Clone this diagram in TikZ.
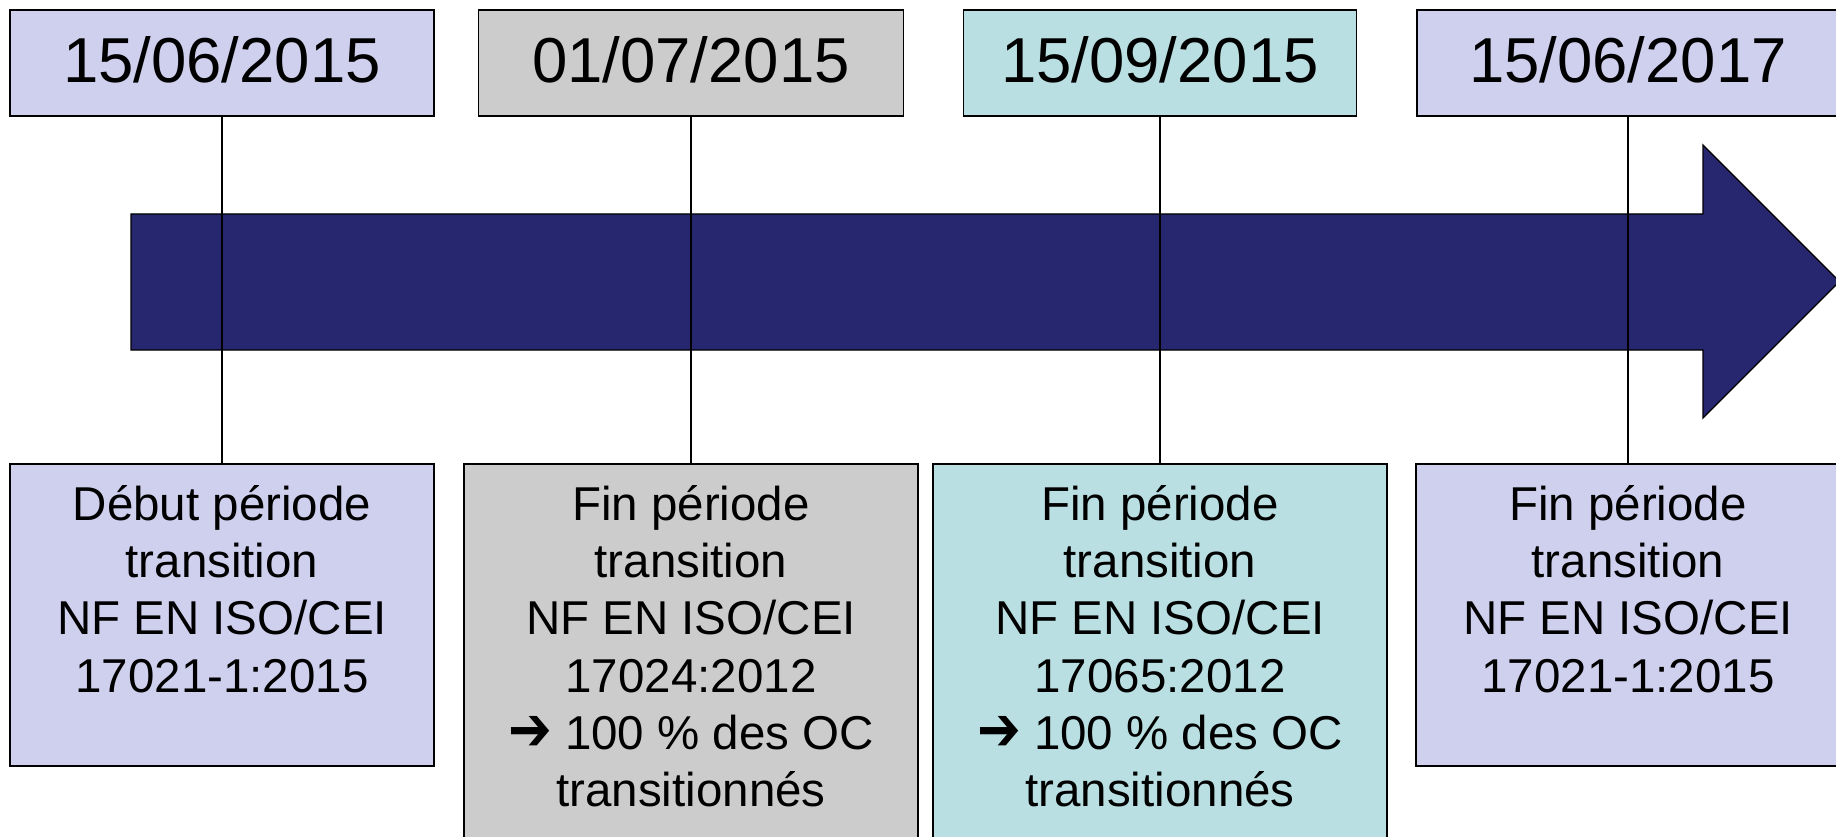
\documentclass[tikz,border=0pt]{standalone}
\usepackage{graphicx}
\usepackage{fontspec}
\setmainfont{Liberation Sans}
\newfontfamily\symfont{DejaVu Sans Bold}
\newcommand{\bigarrow}{{\symfont\raisebox{-1pt}{\scalebox{1.1}[1.3]{➔}}}}
\definecolor{lav}{HTML}{CFCFEE}
\definecolor{grayb}{HTML}{CCCCCC}
\definecolor{teal}{HTML}{B9DFE2}
\definecolor{navy}{HTML}{272770}
\begin{document}
\begin{tikzpicture}[x=1pt,y=-1pt,
  boxst/.style={draw=black, line width=1.5pt, rectangle, inner sep=0pt},
  datebox/.style={boxst, minimum height=106pt},
  datetext/.style={anchor=base, inner sep=0pt, font={\fontsize{63.5}{70}\selectfont}},
  infotext/.style={anchor=north, inner sep=0pt, align=center, font={\fontsize{47.5}{57.3}\selectfont}},
  conn/.style={draw=black, line width=1.3pt}]
\useasboundingbox (0,0) rectangle (1836,837);
\clip (0,0) rectangle (1836,837);
% timeline arrow
\filldraw[fill=navy, draw=black, line width=1.3pt]
  (131,214) -- (1703,214) -- (1703,145) -- (1839.5,281.5) -- (1703,418) -- (1703,350) -- (131,350) -- cycle;
% top date boxes
\node[datebox, fill=lav, minimum width=424pt] (T1) at (222,63) {};
\node[datebox, fill=grayb, minimum width=425pt] (T2) at (691,63) {};
\node[datebox, fill=teal, minimum width=393pt] (T3) at (1160,63) {};
\node[datebox, fill=lav, minimum width=422pt] (T4) at (1628,63) {};
\node[datetext] (d1) at (222,83) {15/06/2015};
\node[datetext] (d2) at (691,83) {01/07/2015};
\node[datetext] (d3) at (1160,83) {15/09/2015};
\node[datetext] (d4) at (1628,83) {15/06/2017};
% bottom boxes
\node[boxst, fill=lav, minimum width=424pt, minimum height=302pt] (B1) at (222,615) {};
\node[boxst, fill=grayb, minimum width=454pt, minimum height=386pt] (B2) at (691,657) {};
\node[boxst, fill=teal, minimum width=454pt, minimum height=386pt] (B3) at (1160,657) {};
\node[boxst, fill=lav, minimum width=424pt, minimum height=302pt] (B4) at (1628,615) {};
% connectors
\draw[conn] (T1.south) -- (B1.north);
\draw[conn] (T2.south) -- (B2.north);
\draw[conn] (T3.south) -- (B3.north);
\draw[conn] (T4.south) -- (B4.north);
% texts
\node[infotext] (t1) at (222,480) {\rule{0pt}{40pt}Début période\\transition\\NF EN ISO/CEI\\17021-1:2015};
\node[infotext] (t2) at (691,480) {\rule{0pt}{40pt}Fin période\\transition\\NF EN ISO/CEI\\17024:2012\\\bigarrow{} 100 \% des OC\\transitionnés};
\node[infotext] (t3) at (1160,480) {\rule{0pt}{40pt}Fin période\\transition\\NF EN ISO/CEI\\17065:2012\\\bigarrow{} 100 \% des OC\\transitionnés};
\node[infotext] (t4) at (1628,480) {\rule{0pt}{40pt}Fin période\\transition\\NF EN ISO/CEI\\17021-1:2015};
\end{tikzpicture}
\end{document}
